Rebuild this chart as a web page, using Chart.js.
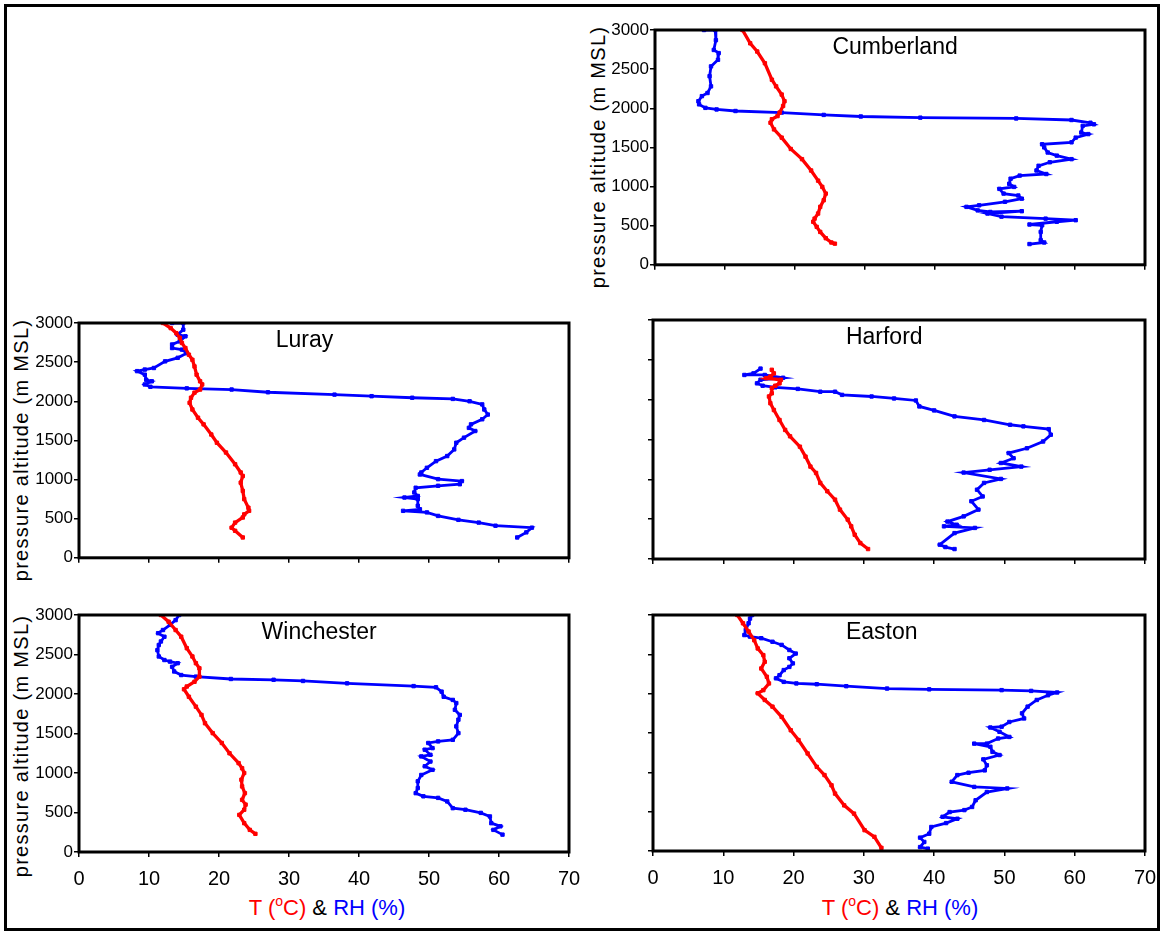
<!DOCTYPE html>
<html>
<head>
<meta charset="utf-8">
<title>Soundings</title>
<script src="https://cdn.jsdelivr.net/npm/chart.js@4"></script>
<style>
    body { margin: 0; background: #fff; }
    #fig {
        position: relative;
        width: 1162px;
        height: 934px;
        background: #fff;
        font-family: "Liberation Sans", Arial, sans-serif;
        overflow: hidden;
    }
    #frame {
        position: absolute;
        left: 4px; top: 4px;
        width: 1156px; height: 927px;
        box-sizing: border-box;
        border: 3px solid #000;
        z-index: 2;
    }
    canvas { position: absolute; }
    .ytitle {
        position: absolute;
        font-size: 20px;
        letter-spacing: 1.3px;
        white-space: nowrap;
        transform: translate(-50%, -50%) rotate(-90deg);
    }
    .xtitle {
        position: absolute;
        font-size: 22px;
        white-space: nowrap;
        transform: translate(-50%, -50%);
    }
    .xtitle .deg { font-size: 14px; position: relative; top: -9px; }
    .red { color: #ff0000; }
    .blue { color: #0000ff; }
</style>
</head>
<body>
<div id="fig">
    <div id="frame"></div>
    <div class="ytitle" style="left:598px; top:157px;">pressure altitude (m MSL)</div>
    <div class="ytitle" style="left:21px; top:450px;">pressure altitude (m MSL)</div>
    <div class="ytitle" style="left:21px; top:746px;">pressure altitude (m MSL)</div>
    <div class="xtitle" style="left:327px; top:908px;"><span class="red">T (<span class="deg">o</span>C)</span> &amp; <span class="blue">RH (%)</span></div>
    <div class="xtitle" style="left:900px; top:908px;"><span class="red">T (<span class="deg">o</span>C)</span> &amp; <span class="blue">RH (%)</span></div>
</div>

<script>
// profiles: [value, pressure altitude (m)]
const cumberlandT = [[12.5,3000],[13.6,2830],[14.6,2725],[15.7,2575],[16.7,2365],[17.3,2280],[18.1,2175],[18.5,2090],[18.3,2030],[17.8,1945],[17.5,1900],[16.7,1860],[16.5,1815],[17.0,1730],[18.1,1625],[19.4,1480],[21.0,1350],[22.3,1205],[23.3,1075],[23.9,995],[24.4,910],[24.1,825],[23.6,740],[23.3,655],[22.8,590],[22.6,550],[23.1,485],[23.6,420],[24.4,340],[25.2,285],[25.7,270]];
const cumberlandRH = [[7.0,3000],[8.6,3000],[8.7,2870],[8.4,2745],[9.1,2705],[9.0,2620],[8.0,2535],[7.8,2410],[8.0,2280],[7.5,2195],[6.7,2155],[6.2,2090],[6.3,2050],[7.2,2005],[8.8,1985],[11.5,1965],[18.1,1945],[24.1,1915],[29.4,1895],[37.9,1880],[51.6,1870],[59.5,1850],[62.2,1815],[62.7,1795],[61.1,1775],[60.9,1690],[61.9,1670],[60.1,1625],[59.5,1565],[55.3,1540],[55.6,1500],[56.1,1435],[57.4,1395],[59.5,1350],[56.4,1310],[54.8,1265],[54.5,1205],[55.9,1160],[52.1,1140],[50.8,1100],[50.6,1035],[51.3,995],[49.2,970],[49.8,910],[51.9,885],[52.4,845],[50.0,805],[46.3,760],[44.5,740],[46.1,695],[47.9,675],[52.4,685],[47.5,655],[49.5,615],[55.8,590],[60.1,570],[57.4,550],[53.5,515],[55.3,505],[55.1,420],[55.1,315],[55.6,285],[53.5,265]];

const lurayT = [[12.0,3000],[13.1,2935],[13.9,2870],[14.4,2810],[14.7,2745],[15.2,2680],[15.7,2595],[16.2,2530],[16.5,2445],[16.8,2340],[17.3,2255],[17.6,2215],[17.3,2150],[16.5,2110],[16.0,2045],[15.8,1980],[16.2,1895],[17.0,1790],[17.8,1705],[18.9,1575],[19.7,1470],[21.0,1345],[22.3,1195],[23.1,1090],[23.4,1045],[23.1,960],[23.4,855],[23.6,750],[24.2,640],[24.3,600],[23.6,555],[23.4,515],[22.3,450],[21.8,385],[22.3,345],[23.4,260]];
const lurayRH = [[13.3,3000],[14.9,3000],[14.9,2915],[14.1,2850],[15.2,2830],[14.4,2765],[13.3,2725],[13.3,2680],[14.7,2660],[15.4,2615],[14.1,2555],[12.3,2510],[10.7,2425],[9.4,2405],[8.3,2385],[9.4,2340],[9.6,2275],[10.4,2255],[9.4,2215],[10.2,2185],[15.4,2165],[21.8,2150],[27.0,2115],[36.5,2085],[41.8,2065],[47.6,2045],[53.4,2030],[55.8,2000],[57.6,1960],[57.9,1895],[58.4,1830],[57.6,1770],[56.0,1705],[55.7,1660],[56.6,1620],[55.0,1535],[53.9,1470],[53.6,1385],[52.6,1300],[51.0,1235],[49.7,1150],[48.9,1090],[48.7,1065],[51.3,1005],[54.7,980],[54.4,940],[51.3,920],[48.1,895],[47.9,835],[48.4,790],[46.5,770],[48.4,750],[48.4,665],[48.7,620],[46.3,600],[49.7,580],[51.3,535],[54.2,485],[57.1,450],[59.5,410],[64.7,385],[63.9,325],[62.6,260]];

const harfordT = [[16.9,2375],[17.2,2330],[16.7,2290],[16.1,2270],[18.2,2250],[18.0,2205],[17.4,2175],[16.9,2145],[16.9,2080],[16.5,2040],[16.7,1955],[17.2,1870],[18.0,1745],[18.8,1620],[19.5,1540],[20.9,1410],[21.7,1285],[22.4,1160],[23.2,1080],[23.8,955],[24.8,850],[25.9,745],[26.6,620],[27.7,495],[28.2,410],[28.7,305],[29.5,200],[30.6,125]];
const harfordRH = [[15.3,2390],[14.3,2330],[13.0,2310],[15.9,2310],[18.5,2275],[15.3,2250],[14.8,2205],[15.6,2175],[17.4,2155],[20.6,2135],[23.8,2100],[25.9,2100],[26.9,2060],[31.1,2040],[34.3,2015],[37.4,1990],[37.9,1915],[40.0,1865],[42.9,1790],[47.1,1745],[50.8,1685],[52.7,1665],[56.3,1630],[56.6,1560],[55.5,1475],[53.2,1390],[50.6,1330],[51.3,1265],[49.5,1205],[52.4,1160],[47.9,1120],[44.2,1085],[49.5,1005],[47.1,955],[46.1,870],[46.9,785],[45.3,725],[46.3,620],[44.2,535],[41.9,470],[43.2,430],[41.4,410],[45.8,390],[42.9,325],[40.8,180],[41.6,150],[42.9,125]];

const winchesterT = [[11.7,3000],[12.8,2915],[13.8,2810],[14.6,2725],[15.4,2580],[16.2,2475],[16.7,2390],[17.2,2325],[17.2,2220],[16.5,2155],[15.4,2095],[15.0,2060],[15.7,1965],[16.7,1840],[17.5,1735],[18.0,1630],[19.1,1505],[20.4,1380],[21.5,1250],[22.8,1125],[23.3,1060],[23.6,1000],[23.2,915],[23.3,830],[23.7,745],[23.3,660],[23.8,600],[23.6,535],[22.9,470],[23.6,365],[24.4,280],[25.2,230]];
const winchesterRH = [[14.3,3000],[13.8,2935],[13.0,2875],[12.0,2810],[11.3,2770],[12.2,2725],[11.7,2665],[11.4,2620],[11.2,2555],[11.4,2475],[12.2,2430],[13.0,2410],[14.1,2390],[13.3,2345],[13.6,2285],[14.6,2240],[16.7,2220],[21.7,2190],[27.8,2180],[32.0,2165],[38.3,2135],[47.8,2100],[51.0,2085],[51.8,2030],[52.1,1965],[53.4,1925],[53.9,1885],[53.7,1800],[54.4,1735],[54.2,1675],[53.9,1590],[54.2,1505],[53.4,1420],[51.3,1400],[49.9,1380],[50.5,1315],[49.4,1295],[50.2,1230],[48.9,1210],[50.2,1145],[49.4,1085],[50.5,1040],[48.9,975],[48.4,895],[48.4,810],[48.1,745],[49.2,705],[51.3,685],[52.6,640],[53.4,555],[55.2,535],[57.4,495],[58.7,450],[58.9,365],[60.2,325],[59.2,280],[60.5,220]];

const eastonT = [[12.0,3000],[12.8,2895],[13.6,2790],[14.4,2680],[14.9,2575],[15.7,2490],[15.9,2405],[15.4,2320],[16.2,2215],[16.5,2130],[15.7,2045],[14.9,2005],[15.9,1920],[17.0,1835],[18.3,1705],[19.6,1535],[20.7,1410],[22.0,1240],[23.3,1070],[24.4,965],[25.4,835],[25.9,730],[27.2,580],[28.6,475],[30.1,265],[31.5,180],[32.5,40]];
const eastonRH = [[14.1,3000],[13.8,2955],[13.6,2895],[13.2,2810],[13.0,2745],[13.8,2725],[15.4,2705],[17.0,2660],[18.3,2620],[19.4,2555],[20.3,2510],[19.4,2450],[19.9,2385],[19.4,2340],[18.6,2300],[18.0,2235],[17.5,2195],[18.6,2150],[20.4,2130],[23.3,2120],[27.5,2095],[33.3,2065],[39.3,2055],[49.6,2045],[53.8,2035],[57.5,2015],[56.2,1980],[54.6,1920],[53.3,1835],[52.5,1750],[52.8,1685],[50.7,1640],[49.6,1580],[48.0,1570],[49.3,1515],[50.7,1450],[49.1,1430],[47.5,1365],[45.7,1365],[48.0,1325],[48.3,1260],[49.3,1220],[47.0,1165],[47.5,1090],[47.2,1025],[44.9,995],[43.3,965],[42.5,880],[45.7,815],[50.4,795],[47.5,750],[45.9,645],[45.4,560],[44.3,520],[42.2,495],[41.2,435],[43.3,410],[41.7,355],[39.6,305],[39.3,220],[38.0,170],[38.6,115],[38.0,50],[39.1,30]];

const xTicks = [0, 10, 20, 30, 40, 50, 60, 70];
const yTicks = [0, 500, 1000, 1500, 2000, 2500, 3000];

const FONT = "'Liberation Sans', Arial, sans-serif";

// canvas box: [left, top, width, height]; plot area: [left, top, right, bottom]
// canvases may run past the figure edge, the overflow is clipped
const panels = [
    { name: "Cumberland", t: cumberlandT, rh: cumberlandRH, box: [580, 15, 600, 261], area: [655, 30, 1145, 266], yLabels: true, xLabels: false, titleAt: 0.49 },
    { name: "Luray", t: lurayT, rh: lurayRH, box: [0, 308, 600, 261], area: [79, 323, 569, 559], yLabels: true, xLabels: false, titleAt: 0.46 },
    { name: "Harford", t: harfordT, rh: harfordRH, box: [580, 305, 600, 264], area: [653, 320, 1145, 559], yLabels: false, xLabels: false, titleAt: 0.47 },
    { name: "Winchester", t: winchesterT, rh: winchesterRH, box: [0, 600, 600, 300], area: [79, 615, 569, 852], yLabels: true, xLabels: true, titleAt: 0.49 },
    { name: "Easton", t: eastonT, rh: eastonRH, box: [578, 600, 600, 300], area: [653, 615, 1145, 851], yLabels: false, xLabels: true, titleAt: 0.465 }
];

// station name inside the plot and the heavy box round it
const panelDecor = {
    id: "panelDecor",
    afterDatasetsDraw(chart, args, opts) {
        const { ctx, chartArea } = chart;
        ctx.save();
        ctx.fillStyle = "#000";
        ctx.font = "23px " + FONT;
        ctx.textAlign = "center";
        ctx.textBaseline = "middle";
        ctx.fillText(opts.title, chartArea.left + opts.titleAt * chartArea.width, chartArea.top + 18);
        ctx.strokeStyle = "#000";
        ctx.lineWidth = 3;
        ctx.strokeRect(chartArea.left, chartArea.top, chartArea.width, chartArea.height);
        ctx.restore();
    }
};

function toPoints(list) {
    return list.map(p => ({ x: p[0], y: p[1] }));
}

function makeChart(p) {
    const [bl, bt, bw, bh] = p.box;
    const [al, at, ar, ab] = p.area;
    const canvas = document.createElement("canvas");
    canvas.width = bw;
    canvas.height = bh;
    canvas.style.left = bl + "px";
    canvas.style.top = bt + "px";
    document.getElementById("fig").appendChild(canvas);

    const yw = al - bl;
    const xh = bt + bh - ab;

    const tickGrid = {
        display: true,
        drawOnChartArea: false,
        drawTicks: true,
        tickLength: 5,
        color: "#000",
        lineWidth: 1.5
    };

    new Chart(canvas, {
        type: "scatter",
        data: {
            datasets: [
                {
                    label: "T",
                    data: toPoints(p.t),
                    showLine: true,
                    borderColor: "#ff0000",
                    backgroundColor: "#ff0000",
                    borderWidth: 3.3,
                    pointStyle: "rect",
                    pointRadius: 2.4,
                    pointBorderWidth: 1
                },
                {
                    label: "RH",
                    data: toPoints(p.rh),
                    showLine: true,
                    borderColor: "#0000ff",
                    backgroundColor: "#0000ff",
                    borderWidth: 2.8,
                    pointStyle: "rect",
                    pointRadius: 2.4,
                    pointBorderWidth: 1
                }
            ]
        },
        options: {
            responsive: false,
            animation: false,
            events: [],
            layout: {
                padding: { left: 0, top: at - bt, right: bl + bw - ar, bottom: 0 }
            },
            plugins: {
                legend: { display: false },
                tooltip: { enabled: false },
                panelDecor: { title: p.name, titleAt: p.titleAt }
            },
            scales: {
                x: {
                    type: "linear",
                    min: xTicks[0],
                    max: xTicks[xTicks.length - 1],
                    afterBuildTicks: s => { s.ticks = xTicks.map(v => ({ value: v })); },
                    afterFit: s => { s.height = xh; },
                    border: { display: false },
                    grid: tickGrid,
                    ticks: {
                        display: p.xLabels,
                        color: "#000",
                        padding: 10,
                        maxRotation: 0,
                        callback: v => String(v),
                        font: { family: FONT, size: 20 }
                    }
                },
                y: {
                    type: "linear",
                    min: yTicks[0],
                    max: yTicks[yTicks.length - 1],
                    afterBuildTicks: s => { s.ticks = yTicks.map(v => ({ value: v })); },
                    afterFit: s => { s.width = yw; },
                    border: { display: false },
                    grid: tickGrid,
                    ticks: {
                        display: p.yLabels,
                        color: "#000",
                        padding: 1,
                        callback: v => String(v),
                        font: { family: FONT, size: 17 }
                    }
                }
            }
        },
        plugins: [panelDecor]
    });
}

panels.forEach(makeChart);
</script>
</body>
</html>
